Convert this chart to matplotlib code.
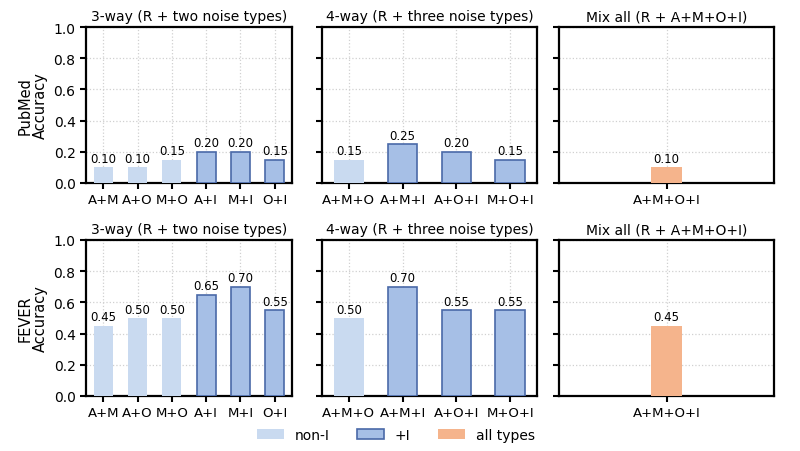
import matplotlib.pyplot as plt
from matplotlib.patches import Patch

# data
labels3 = ["A+M", "A+O", "M+O", "A+I", "M+I", "O+I"]
labels4 = ["A+M+O", "A+M+I", "A+O+I", "M+O+I"]
labels_all = ["A+M+O+I"]

pubmed3 = [0.10, 0.10, 0.15, 0.20, 0.20, 0.15]
pubmed4 = [0.15, 0.25, 0.20, 0.15]
pubmed_all = [0.10]

fever3 = [0.45, 0.50, 0.50, 0.65, 0.70, 0.55]
fever4 = [0.50, 0.70, 0.55, 0.55]
fever_all = [0.45]

titles = ["3-way (R + two noise types)", "4-way (R + three noise types)", "Mix all (R + A+M+O+I)"]
datasets = ["PubMed", "FEVER"]

c_non = "#c9daf0"
c_i = "#a6bfe6"
c_edge = "#4a69a8"
c_all = "#f5b48c"

plt.rcParams['font.family'] = ['DejaVu Sans']

fig = plt.figure(figsize=(8, 4.52), dpi=100)

W, H = 800, 452
cols = [(86, 292), (322, 537), (559, 774)]
rows = [(28, 184), (241, 397)]


def draw(ax, labels, vals, xlim):
    x = list(range(len(labels)))
    for xi, lab, v in zip(x, labels, vals):
        if lab == "A+M+O+I":
            ax.bar(xi, v, width=0.55, color=c_all, zorder=3)
        elif "I" in lab:
            ax.bar(xi, v, width=0.55, color=c_i, edgecolor=c_edge, linewidth=1.2, zorder=3)
        else:
            ax.bar(xi, v, width=0.55, color=c_non, zorder=3)
        ax.text(xi, v + 0.015, f"{v:.2f}", ha='center', va='bottom', fontsize=8.5)
    ax.set_xticks(x)
    ax.set_xticklabels(labels)
    ax.set_xlim(*xlim)
    ax.set_ylim(0, 1.0)
    ax.set_yticks([0, 0.2, 0.4, 0.6, 0.8, 1.0])
    ax.grid(True, linestyle=':', color='#d0d0d0', linewidth=0.9, zorder=0)
    for s in ax.spines.values():
        s.set_linewidth(1.6)
    ax.tick_params(axis='both', width=1.5, length=4, labelsize=10)
    ax.tick_params(axis='x', labelsize=9.5)


row_data = [
    (pubmed3, pubmed4, pubmed_all),
    (fever3, fever4, fever_all),
]

for r, (y0, y1) in enumerate(rows):
    d3, d4, dall = row_data[r]
    axes = []
    for c, (x0, x1) in enumerate(cols):
        ax = fig.add_axes([x0 / W, 1 - y1 / H, (x1 - x0) / W, (y1 - y0) / H])
        axes.append(ax)
    draw(axes[0], labels3, d3, (-0.5, 5.5))
    draw(axes[1], labels4, d4, (-0.5, 3.5))
    draw(axes[2], labels_all, dall, (-1.95, 1.95))
    for c, ax in enumerate(axes):
        ax.set_title(titles[c], fontsize=10, pad=5)
        if c > 0:
            ax.tick_params(axis='y', labelleft=False)
    axes[0].set_ylabel(f"{datasets[r]}\nAccuracy", fontsize=10.5, linespacing=1.0)

handles = [
    Patch(facecolor=c_non, label="non-I"),
    Patch(facecolor=c_i, edgecolor=c_edge, linewidth=1.2, label="+I"),
    Patch(facecolor=c_all, label="all types"),
]
fig.legend(handles=handles, loc='center', bbox_to_anchor=(396 / W, 1 - 436 / H), ncol=3,
           frameon=False, fontsize=10, handlelength=1.9, columnspacing=2.0)

fig.savefig("out.png", dpi=100)
